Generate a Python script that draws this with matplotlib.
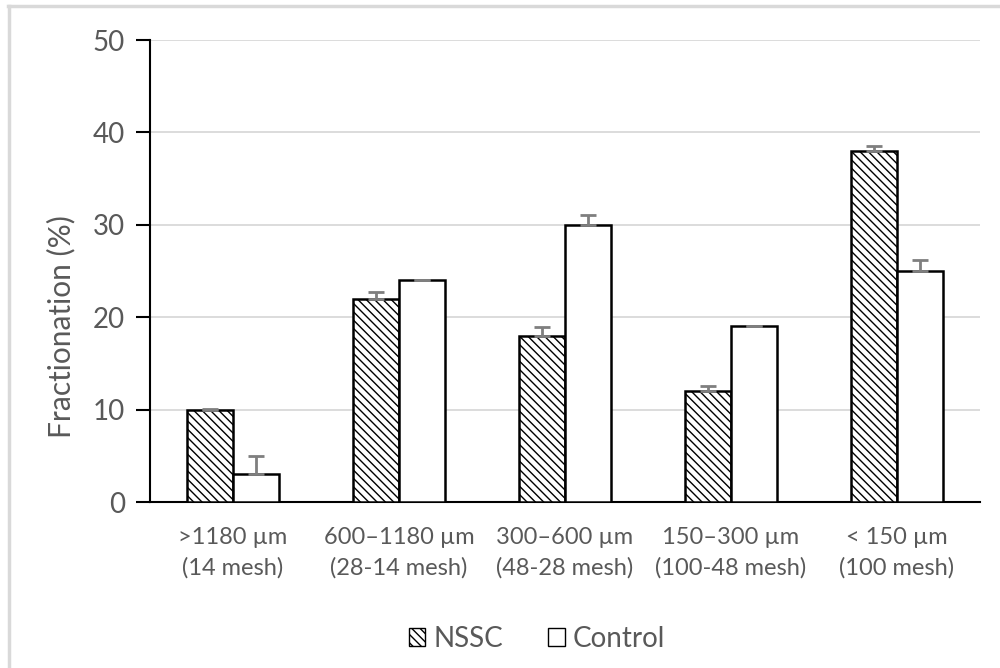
import matplotlib
matplotlib.use("Agg")
import matplotlib.pyplot as plt
import numpy as np
from matplotlib.lines import Line2D
from matplotlib.patches import Patch

plt.rcParams["font.family"] = ["Lato", "DejaVu Sans"]
plt.rcParams["hatch.linewidth"] = 1.0

categories = [">1180 µm\n(14 mesh)", "600–1180 µm\n(28-14 mesh)", "300–600 µm\n(48-28 mesh)",
              "150–300 µm\n(100-48 mesh)", "< 150 µm\n(100 mesh)"]
nssc = [10, 22, 18, 12, 38]
nssc_err = [0.1, 0.7, 0.9, 0.6, 0.5]
control = [3, 24, 30, 19, 25]
control_err = [2.0, 0.05, 1.1, 0.1, 1.2]

text_gray = "#595959"
x = np.arange(len(categories))
w = 0.28

fig = plt.figure(figsize=(10, 6.68), dpi=100)
ax = fig.add_axes([0.15, 0.2485, 0.83, 0.6915])

err_kw = dict(ecolor="#7f7f7f", elinewidth=2, capsize=6, capthick=2)
ax.bar(x - w / 2, nssc, w, color="white", edgecolor="black", linewidth=1.8, hatch="\\\\\\\\",
       yerr=[np.zeros(len(nssc)), nssc_err], error_kw=err_kw, zorder=3)
ax.bar(x + w / 2, control, w, color="white", edgecolor="black", linewidth=1.8,
       yerr=[np.zeros(len(control)), control_err], error_kw=err_kw, zorder=3)

ax.set_xlim(-0.5, len(categories) - 0.5)
ax.set_ylim(0, 50)
ax.set_yticks(range(0, 51, 10))
ax.yaxis.grid(True, color="#d9d9d9", linewidth=1.3, zorder=0)
ax.set_axisbelow(True)
for s in ["top", "right"]:
    ax.spines[s].set_visible(False)
ax.spines["left"].set_linewidth(1.5)
ax.spines["bottom"].set_linewidth(1.5)
ax.tick_params(axis="y", length=10, width=1.5, labelsize=20, labelcolor=text_gray, pad=8)
ax.tick_params(axis="x", length=0, labelsize=17, labelcolor=text_gray, pad=18)
ax.set_xticks(x)
ax.set_xticklabels(categories, linespacing=1.5)
ax.set_ylabel("Fractionation (%)", fontsize=21.5, color=text_gray)
ax.yaxis.set_label_coords(-0.09, 0.38)

handles = [Patch(facecolor="white", edgecolor="black", hatch="\\\\\\\\", label="NSSC"),
           Patch(facecolor="white", edgecolor="black", label="Control")]
fig.legend(handles=handles, loc="center", bbox_to_anchor=(0.537, 0.044), ncol=2, frameon=False,
           fontsize=20, labelcolor=text_gray, handlelength=0.6, handleheight=0.6,
           handletextpad=0.3, columnspacing=1.6)

# chart frame (only left and top edges visible in the crop)
fig.add_artist(Line2D([0.009, 0.009], [0, 0.991], color="#d9d9d9", linewidth=2.5, transform=fig.transFigure))
fig.add_artist(Line2D([0.008, 1.0], [0.991, 0.991], color="#d9d9d9", linewidth=2.5, transform=fig.transFigure))

fig.savefig("out.png", dpi=100)
